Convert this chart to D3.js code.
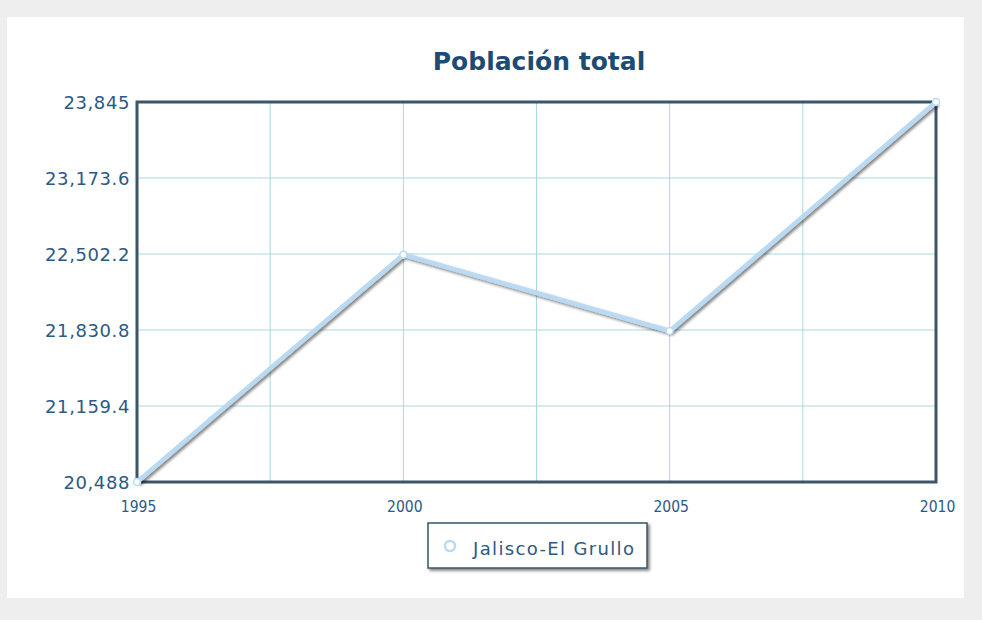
<!DOCTYPE html>
<html>
<head>
<meta charset="utf-8">
<script src="https://cdn.jsdelivr.net/npm/d3@7"></script>
<style>
  body { margin: 0; background: #eeeeee; }
  svg { display: block; }
</style>
</head>
<body>
<svg id="chart" width="982" height="620"></svg>
<script>
const years = [1995, 2000, 2005, 2010];
const population = [20488, 22496, 21822, 23845];
const yTicks = [20488, 21159.4, 21830.8, 22502.2, 23173.6, 23845];
const xGrid = [1995, 1997.5, 2000, 2002.5, 2005, 2007.5, 2010];
const seriesName = "Jalisco-El Grullo";

const svg = d3.select("#chart");
const margin = { top: 102, right: 46, bottom: 138, left: 137 };
const W = 982, H = 620;

// panel blanco
svg.append("rect").attr("x", 0).attr("y", 0).attr("width", W).attr("height", H).attr("fill", "#eeeeee");
svg.append("rect").attr("x", 7).attr("y", 17).attr("width", 957).attr("height", 581).attr("fill", "#ffffff");

const x = d3.scaleLinear().domain([1995, 2010]).range([margin.left, W - margin.right]);
const y = d3.scaleLinear().domain([20488, 23845]).range([H - margin.bottom, margin.top]);

const defs = svg.append("defs");
const f = defs.append("filter").attr("id", "shadow").attr("x", "-10%").attr("y", "-10%").attr("width", "130%").attr("height", "130%");
f.append("feGaussianBlur").attr("in", "SourceAlpha").attr("stdDeviation", 1.5);
f.append("feOffset").attr("dx", 2).attr("dy", 2).attr("result", "b");
f.append("feComponentTransfer").append("feFuncA").attr("type", "linear").attr("slope", 0.5);
const fm = f.append("feMerge");
fm.append("feMergeNode");
fm.append("feMergeNode").attr("in", "SourceGraphic");

// rejilla
svg.append("g").selectAll("line").data(yTicks).join("line")
  .attr("x1", x(1995)).attr("x2", x(2010))
  .attr("y1", d => y(d)).attr("y2", d => y(d))
  .attr("stroke", "#a9d8df").attr("stroke-width", 1);
svg.append("g").selectAll("line").data(xGrid).join("line")
  .attr("x1", d => x(d)).attr("x2", d => x(d))
  .attr("y1", y(23845)).attr("y2", y(20488))
  .attr("stroke", "#a9d8df").attr("stroke-width", 1);

// marco
svg.append("rect")
  .attr("x", x(1995)).attr("y", y(23845))
  .attr("width", x(2010) - x(1995)).attr("height", y(20488) - y(23845))
  .attr("fill", "none").attr("stroke", "#3b5569").attr("stroke-width", 3);

// ejes
const yAxis = svg.append("g").attr("transform", `translate(${x(1995) - 5},0)`)
  .call(d3.axisLeft(y).tickValues(yTicks).tickSize(0).tickPadding(2)
    .tickFormat(d => d3.format(",")(Math.round(d * 10) / 10)));
yAxis.select(".domain").remove();
yAxis.selectAll("text").attr("fill", "#2b5a84").attr("font-family", "DejaVu Sans")
  .attr("font-size", 18).attr("letter-spacing", 0.6).attr("dy", "0.36em");

const xAxis = svg.append("g").attr("transform", `translate(0,${y(20488) + 27})`)
  .call(d3.axisBottom(x).tickValues(years).tickSize(0).tickFormat(d3.format("d")));
xAxis.select(".domain").remove();
xAxis.selectAll("text").attr("fill", "#2b5a84").attr("font-family", "DejaVu Sans Condensed")
  .attr("font-size", 15.5).attr("dy", "0").attr("dx", 1);

// título
svg.append("text").attr("x", 539).attr("y", 70).attr("text-anchor", "middle")
  .attr("font-family", "DejaVu Sans").attr("font-weight", "bold").attr("font-size", 25)
  .attr("fill", "#1e4b73").text("Población total");

// serie
const pts = years.map((d, i) => [d, population[i]]);
svg.append("path").datum(pts)
  .attr("d", d3.line().x(d => x(d[0])).y(d => y(d[1])))
  .attr("fill", "none").attr("stroke", "#b9daf2").attr("stroke-width", 4.5)
  .attr("stroke-linejoin", "round").attr("filter", "url(#shadow)");
svg.append("g").selectAll("circle").data(pts).join("circle")
  .attr("cx", d => x(d[0])).attr("cy", d => y(d[1])).attr("r", 3.5)
  .attr("fill", "#ffffff").attr("stroke", "#b9daf2").attr("stroke-width", 1.5);

// leyenda
const lg = svg.append("g").attr("transform", "translate(428,523)");
lg.append("rect").attr("width", 219).attr("height", 45)
  .attr("fill", "#ffffff").attr("stroke", "#3b5569").attr("stroke-width", 1.5)
  .attr("filter", "url(#shadow)");
lg.append("circle").attr("cx", 22).attr("cy", 23).attr("r", 5)
  .attr("fill", "#ffffff").attr("stroke", "#b9daf2").attr("stroke-width", 2.5);
lg.append("text").attr("x", 45).attr("y", 32)
  .attr("font-family", "DejaVu Sans").attr("font-size", 18).attr("letter-spacing", 1.35)
  .attr("fill", "#2b5a84")
  .text(seriesName);
</script>
</body>
</html>
